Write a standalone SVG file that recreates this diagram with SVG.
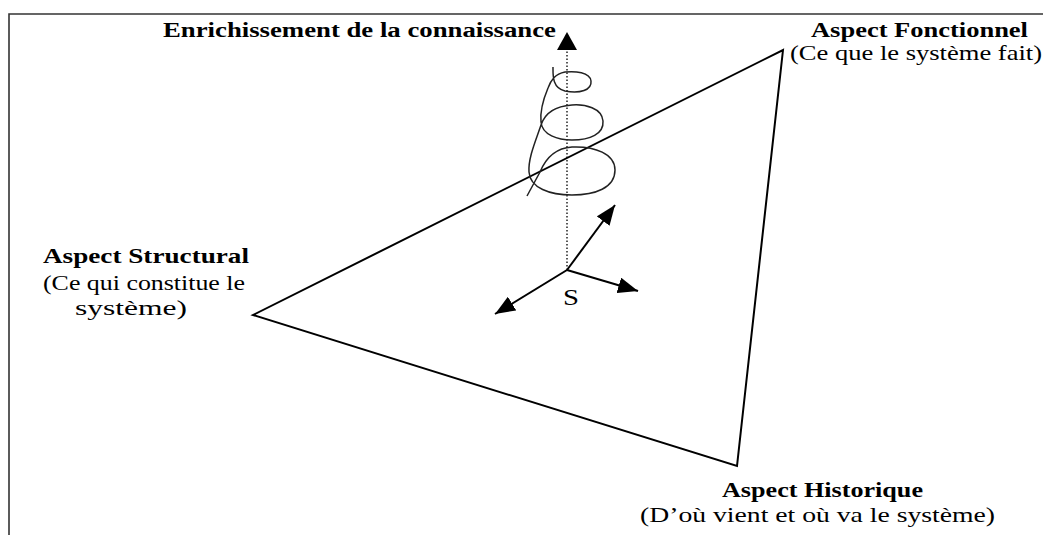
<svg xmlns="http://www.w3.org/2000/svg" width="1043" height="535" viewBox="0 0 1043 535">
<defs>
<marker id="ah" markerWidth="20" markerHeight="16" refX="20" refY="8" orient="auto" markerUnits="userSpaceOnUse">
<path d="M0,0 L20,8 L0,16 Z" fill="#000"/>
</marker>
<style>
.b{font-family:"Liberation Serif","Times New Roman",serif;font-weight:bold;font-size:20px;fill:#000}
.r{font-family:"Liberation Serif","Times New Roman",serif;font-size:21px;fill:#000}
.ln{stroke:#000;stroke-width:2;fill:none}
</style>
</defs>
<rect width="1043" height="535" fill="#fff"/>
<g id="frame">
<path d="M9,535 L9,14 L1043,14" fill="none" stroke="#333" stroke-width="1.6"/>
</g>
<g id="triangle">
<polygon points="783,50 737,466 253,315" fill="none" stroke="#000" stroke-width="2"/>
</g>
<g id="connectors">
<line x1="567" y1="270" x2="567" y2="50" stroke="#000" stroke-width="1.3" stroke-dasharray="1.5,2"/>
<path d="M567,32 L577,50 L557,50 Z" fill="#000"/>
<line class="ln" x1="567" y1="270" x2="615" y2="205" marker-end="url(#ah)"/>
<line class="ln" x1="567" y1="270" x2="638" y2="291" marker-end="url(#ah)"/>
<line class="ln" x1="567" y1="270" x2="495" y2="314" marker-end="url(#ah)"/>
<path d="M553,67 C553,75 552,88 565,91 C580,94 592,90 591,81 C590,72 575,71 565,72 C555,74 551,80 548,88 C543,100 540,112 541,122 C542,135 558,140 572,140 C590,140 604,134 603,121 C602,108 585,104 572,105 C556,106 545,113 541,125 C536,140 528,158 529,172 C530,188 550,195 572,195 C595,195 615,188 615,170 C615,154 595,146 572,147 C555,148 545,160 540,172 L527,196" fill="none" stroke="#222" stroke-width="1.5"/>
</g>
<g id="enrichissement">
<text class="b" x="163" y="37" textLength="393" lengthAdjust="spacingAndGlyphs">Enrichissement de la connaissance</text>
</g>
<g id="fonctionnel">
<text class="b" x="811" y="37" textLength="217" lengthAdjust="spacingAndGlyphs">Aspect Fonctionnel</text>
<text class="r" x="790" y="60" textLength="252" lengthAdjust="spacingAndGlyphs">(Ce que le système fait)</text>
</g>
<g id="structural">
<text class="b" x="43" y="263" style="font-size:22px" textLength="206" lengthAdjust="spacingAndGlyphs">Aspect Structural</text>
<text class="r" x="43" y="290" style="font-size:22px" textLength="202" lengthAdjust="spacingAndGlyphs">(Ce qui constitue le</text>
<text class="r" x="75" y="315" style="font-size:22px" textLength="112" lengthAdjust="spacingAndGlyphs">système)</text>
</g>
<g id="historique">
<text class="b" x="722" y="497" textLength="201" lengthAdjust="spacingAndGlyphs">Aspect Historique</text>
<text class="r" x="640" y="522" textLength="355" lengthAdjust="spacingAndGlyphs">(D’où vient et où va le système)</text>
</g>
<g id="origin">
<text class="r" x="563" y="305" style="font-size:23px" textLength="16" lengthAdjust="spacingAndGlyphs">S</text>
</g>
</svg>
